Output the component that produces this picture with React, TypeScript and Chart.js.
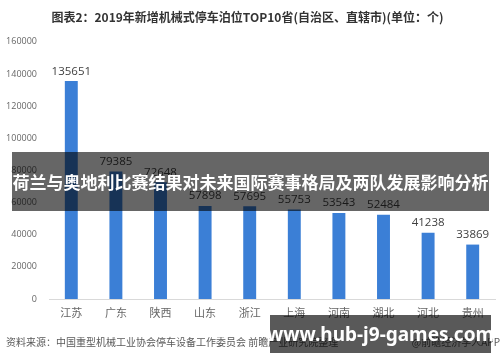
import React, { useEffect, useRef } from "react";
import { Chart, registerables } from "chart.js";

Chart.register(...registerables);

const categories = ["江苏", "广东", "陕西", "山东", "浙江", "上海", "河南", "湖北", "河北", "贵州"];
const values = [135651, 79385, 72648, 57898, 57695, 55753, 53543, 52484, 41238, 33869];
const yMin = 0;
const yMax = 160000;
const yStep = 20000;
const titleText = "图表2：2019年新增机械式停车泊位TOP10省(自治区、直辖市)(单位：个)";
const sourceText = "资料来源：中国重型机械工业协会停车设备工作委员会 前瞻产业研究院整理";
const creditText = "@前瞻经济学人APP";
const bannerText = "荷兰与奥地利比赛结果对未来国际赛事格局及两队发展影响分析";
const siteText = "www.hub-j9-games.com";

const CJK = '"Noto Sans CJK SC", "Noto Sans", sans-serif';
const NUM = '"Open Sans", "Noto Sans", sans-serif';

const valueLabels = {
  id: "valueLabels",
  afterDatasetsDraw(chart: any) {
    const ctx = chart.ctx;
    const meta = chart.getDatasetMeta(0);
    ctx.save();
    ctx.font = `11.5px ${NUM}`;
    ctx.fillStyle = "#404040";
    ctx.textAlign = "center";
    ctx.textBaseline = "bottom";
    meta.data.forEach((bar: any, i: number) => {
      ctx.fillText(String(values[i]), bar.x, bar.y - 4);
    });
    ctx.restore();
  },
};

const footerText = {
  id: "footerText",
  afterDraw(chart: any) {
    const ctx = chart.ctx;
    ctx.save();
    ctx.font = `10px ${CJK}`;
    ctx.fillStyle = "#595959";
    ctx.textBaseline = "middle";
    ctx.textAlign = "left";
    ctx.fillText(sourceText, 6, 342);
    ctx.textAlign = "right";
    ctx.fillText(creditText, 500, 342);
    ctx.restore();
  },
};

export default function App() {
  const ref = useRef<HTMLCanvasElement | null>(null);

  useEffect(() => {
    if (!ref.current) return;
    const chart = new Chart(ref.current, {
      type: "bar",
      data: {
        labels: categories,
        datasets: [
          {
            data: values,
            backgroundColor: "#3b7fd6",
            barPercentage: 0.58,
            categoryPercentage: 0.5,
          },
        ],
      },
      options: {
        responsive: false,
        animation: false,
        layout: { padding: { left: 0, right: 5, top: 0, bottom: 41 } },
        plugins: {
          legend: { display: false },
          tooltip: { enabled: false },
          title: {
            display: true,
            text: titleText,
            color: "#333333",
            font: { family: CJK, size: 12, weight: "bold" },
            padding: { top: 10, bottom: 17.5 },
          },
        },
        scales: {
          x: {
            grid: { display: false, drawTicks: false },
            border: { display: true, color: "#d9d9d9", width: 1 },
            ticks: {
              color: "#666666",
              font: { family: CJK, size: 11 },
              padding: 7,
              maxRotation: 0,
            },
            afterFit(scale: any) {
              scale.height = 22;
            },
          },
          y: {
            min: yMin,
            max: yMax,
            grid: { display: false, drawTicks: false },
            border: { display: false },
            ticks: {
              stepSize: yStep,
              color: "#666666",
              font: { family: NUM, size: 9 },
              padding: 12,
              callback: (v: any) => String(v),
            },
            afterFit(scale: any) {
              scale.width = 49;
            },
          },
        },
      },
      plugins: [valueLabels, footerText],
    });
    return () => chart.destroy();
  }, []);

  return (
    <div style={{ position: "absolute", left: 0, top: 0, width: 500, height: 362, background: "#ffffff", overflow: "hidden" }}>
      <canvas ref={ref} width={500} height={362} style={{ display: "block" }} />
      <div
        style={{
          position: "absolute",
          left: 12,
          top: 152,
          width: 477,
          height: 59,
          background: "rgba(0,0,0,0.6)",
          color: "#ffffff",
          fontFamily: CJK,
          fontWeight: 700,
          fontSize: 17,
          display: "flex",
          alignItems: "center",
          justifyContent: "center",
          whiteSpace: "nowrap",
        }}
      >
        {bannerText}
      </div>
      <div
        style={{
          position: "absolute",
          left: 270,
          top: 315,
          width: 221,
          height: 38,
          background: "rgba(0,0,0,0.65)",
          color: "#ffffff",
          fontFamily: '"Noto Sans", "Open Sans", sans-serif',
          fontWeight: 700,
          fontSize: 19,
          display: "flex",
          alignItems: "center",
          justifyContent: "center",
          whiteSpace: "nowrap",
        }}
      >
        {siteText}
      </div>
    </div>
  );
}
